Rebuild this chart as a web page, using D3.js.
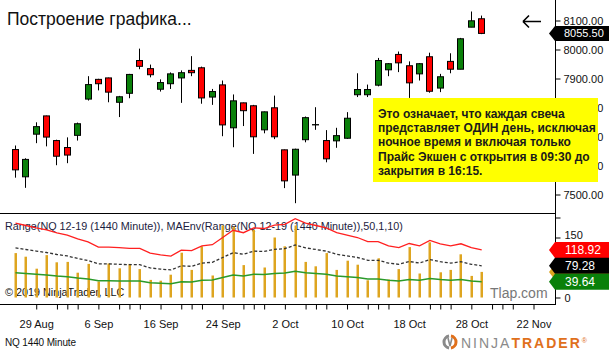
<!DOCTYPE html>
<html>
<head>
<meta charset="utf-8">
<script src="https://cdn.jsdelivr.net/npm/d3@7"></script>
<style>
body{margin:0;background:#fff}
svg{display:block;font-family:"Liberation Sans",Arial,sans-serif}
</style>
</head>
<body>
<svg id="chart" width="609" height="352"></svg>
<script>
// daily NQ 12-19 bars
const open  = [7655,7561,7708,7771,7686,7662,7704,7829,7897,7902,7818,7849,7962,7934,7863,7882,7902,7928,7937,7836,7878,7730,7816,7806,7723,7799,7654,7567,7689,7740,7686,7685,7694,7844,7844,7877,7930,7983,7944,7916,7975,7867,7959,7932,8077,8106]
const high  = [7669,7625,7749,7772,7689,7697,7748,7908,7899,7903,7840,7916,8003,7948,7897,7921,7928,7977,7941,7864,7893,7845,7817,7809,7786,7841,7655,7658,7769,7801,7722,7730,7784,7918,7879,7971,7953,7993,7959,7953,7989,7916,7987,8040,8131,8117]
const low   = [7558,7523,7677,7666,7601,7608,7686,7824,7859,7818,7767,7832,7932,7904,7855,7864,7816,7908,7813,7809,7701,7663,7736,7640,7711,7691,7522,7470,7680,7723,7611,7661,7692,7836,7836,7873,7908,7922,7833,7893,7851,7853,7918,7932,8077,8053]
const close = [7585,7621,7734,7698,7632,7636,7744,7879,7882,7853,7837,7914,7942,7913,7886,7916,7920,7920,7833,7855,7740,7823,7789,7699,7785,7699,7547,7656,7765,7741,7623,7703,7763,7862,7862,7962,7951,7954,7885,7951,7856,7906,7932,8037,8099,8055.5]

// lower panel: Range bars and MA envelope
const range   = [111,102,72,106,88,89,62,84,40,85,73,84,71,44,42,57,112,69,128,55,180,177,81,169,75,150,128,180,89,78,111,69,92,82,43,98,45,71,126,60,138,63,69,108,54,64]
const maMid   = [124,120,116,112.5,107.5,104,97.5,92.5,84,84,83,82,82,74,71,69,79,78,86,88,100,112,108,116,115,120.5,122,131.3,124,120,116,108,104,100,93,93,86,83,90,86,95,89.5,86,89.5,83,79.28]
const maUpper = [186,180,174,168.8,161.3,156,146.3,138.8,126,126,124.5,123,123,111,106.5,103.5,118.5,117,129,132,150,168,162,174,172.5,180.8,183,197,186,180,174,162,156,150,139.5,139.5,129,124.5,135,129,142.5,134.3,129,134.3,124.5,118.92]
const maLower = [62,60,58,56.3,53.8,52,48.8,46.3,42,42,41.5,41,41,37,35.5,34.5,39.5,39,43,44,50,56,54,58,57.5,60.3,61,65.6,62,60,58,54,52,50,46.5,46.5,43,41.5,45,43,47.5,44.8,43,44.8,41.5,39.64]

const priceTicks = [7500,7600,7700,7800,7900,8000,8100]
const rangeTicks = [0,50,100,150,200]
const rangeLabels = [0,150]
const dateLabels = ["29 Aug","6 Sep","16 Sep","24 Sep","2 Oct","10 Oct","18 Oct","28 Oct","22 Nov"]
const datePos    = [2,8,14,20,26,32,38,44,50]

const note = ["Это означает, что каждая свеча",
    "представляет ОДИН день, исключая",
    "ночное время и включая только",
    "Прайс Экшен с открытия в 09:30 до",
    "закрытия в 16:15."]

const svg = d3.select("#chart")
const axisX = 555

const x  = d3.scaleLinear().domain([0, 45]).range([15, 481.2])
const yP = d3.scaleLinear().domain([7500, 8100]).range([194.5, 20.5])
const yI = d3.scaleLinear().domain([0, 150]).range([297.5, 237.5])
const px = i => Math.round(x(i))

svg.append("rect").attr("width", 609).attr("height", 352).attr("fill", "#fff")

// title + arrow
svg.append("text")
    .attr("x", 7).attr("y", 25)
    .attr("font-size", 17.5)
    .attr("fill", "#111")
    .text("Построение графика...")

svg.append("path")
    .attr("d", "M523,21.5 L541,21.5 M523,21.5 L529,15.5 M523,21.5 L529,27.5")
    .attr("stroke", "#000").attr("stroke-width", 1.6).attr("fill", "none")

// frame lines
svg.append("line").attr("x1", 0).attr("x2", axisX).attr("y1", 213.5).attr("y2", 213.5).attr("stroke", "#000")
svg.append("line").attr("x1", 0).attr("x2", axisX).attr("y1", 304.5).attr("y2", 304.5).attr("stroke", "#000")
svg.append("line").attr("x1", axisX + .5).attr("x2", axisX + .5).attr("y1", 0).attr("y2", 305).attr("stroke", "#000")

// price axis
const priceAxis = svg.append("g")
    .attr("transform", `translate(${axisX + .5},0)`)
    .call(d3.axisRight(yP).tickValues(priceTicks).tickFormat(d3.format(".2f")).tickSize(5).tickPadding(3))
priceAxis.select(".domain").remove()
priceAxis.selectAll("text").attr("font-size", 11).attr("font-family", "Liberation Sans, Arial").attr("fill", "#111")

// candles
const candles = svg.append("g").selectAll("g")
    .data(d3.range(open.length))
    .join("g")

candles.append("line")
    .attr("x1", i => px(i) + .5).attr("x2", i => px(i) + .5)
    .attr("y1", i => yP(high[i])).attr("y2", i => yP(low[i]))
    .attr("stroke", "#000")

candles.append("rect")
    .attr("x", i => px(i) - 2.5)
    .attr("width", 6)
    .attr("y", i => yP(Math.max(open[i], close[i])))
    .attr("height", i => Math.max(0.3, Math.abs(yP(open[i]) - yP(close[i]))))
    .attr("fill", i => close[i] >= open[i] ? "#0a800a" : "#ff0000")
    .attr("stroke", "#000")

// last price marker
const lastY = yP(close[close.length - 1])
svg.append("path")
    .attr("d", `M549,${lastY} L555,${lastY - 7.5} L609,${lastY - 7.5} L609,${lastY + 7.5} L555,${lastY + 7.5} Z`)
    .attr("fill", "#000")
svg.append("text")
    .attr("x", 564).attr("y", lastY + 4)
    .attr("font-size", 11).attr("fill", "#fff")
    .text(d3.format(".2f")(close[close.length - 1]))

// note box
svg.append("rect")
    .attr("x", 373).attr("y", 98).attr("width", 225).attr("height", 84)
    .attr("fill", "#ffff00")
svg.append("g").selectAll("text")
    .data(note)
    .join("text")
    .attr("x", 378)
    .attr("y", (d, i) => 118 + i * 14.2)
    .attr("font-size", 12)
    .attr("font-weight", "bold")
    .attr("fill", "#1a1a1a")
    .text(d => d)

// lower panel texts
svg.append("text")
    .attr("x", 5).attr("y", 229.5)
    .attr("font-size", 10.8).attr("fill", "#1c1c40")
    .text("Range(NQ 12-19 (1440 Minute)), MAEnv(Range(NQ 12-19 (1440 Minute)),50,1,10)")
svg.append("text")
    .attr("x", 5).attr("y", 295.5)
    .attr("font-size", 10.8).attr("fill", "#111")
    .text("© 2019 NinjaTrader, LLC")
svg.append("text")
    .attr("x", 490).attr("y", 298)
    .attr("font-size", 14).attr("fill", "#777")
    .text("Tlap.com")

// range bars
svg.append("g").selectAll("rect")
    .data(range)
    .join("rect")
    .attr("x", (d, i) => px(i) - 0.5)
    .attr("width", 2.5)
    .attr("y", d => yI(d))
    .attr("height", d => yI(0) - yI(d))
    .attr("fill", "#dea520")

const line = d3.line().x((d, i) => x(i) + .5).y(d => yI(d))
svg.append("path").datum(maUpper).attr("d", line).attr("fill", "none").attr("stroke", "#ff2020").attr("stroke-width", 1.3)
svg.append("path").datum(maMid).attr("d", line).attr("fill", "none").attr("stroke", "#333").attr("stroke-width", 1.3).attr("stroke-dasharray", "3,2")
svg.append("path").datum(maLower).attr("d", line).attr("fill", "none").attr("stroke", "#2a9a2a").attr("stroke-width", 1.5)

// lower axis (50 and 100 sit under the value markers)
const rangeAxis = svg.append("g")
    .attr("transform", `translate(${axisX + .5},0)`)
    .call(d3.axisRight(yI).tickValues(rangeTicks).tickFormat(d => rangeLabels.includes(d) ? d : "").tickSize(5).tickPadding(4))
rangeAxis.select(".domain").remove()
rangeAxis.selectAll("text").attr("font-size", 11).attr("font-family", "Liberation Sans, Arial").attr("fill", "#111")
rangeAxis.selectAll(".tick").filter(d => d === 150).select("text").attr("dy", "0.1em")

// value markers on the lower axis
const markers = [
    {v: range[range.length - 1], c: "#dea520", label: ""},
    {v: maUpper[maUpper.length - 1], c: "#ff0000", label: d3.format(".2f")(maUpper[maUpper.length - 1])},
    {v: maMid[maMid.length - 1], c: "#000", label: d3.format(".2f")(maMid[maMid.length - 1])},
    {v: maLower[maLower.length - 1], c: "#0a800a", label: d3.format(".2f")(maLower[maLower.length - 1])}
]
const mk = svg.append("g").selectAll("g").data(markers).join("g")
mk.append("path")
    .attr("d", d => {
        const cy = yI(d.v)
        return `M549,${cy} L555,${cy - 8} L609,${cy - 8} L609,${cy + 8} L555,${cy + 8} Z`
    })
    .attr("fill", d => d.c)
mk.append("text")
    .attr("x", 565).attr("y", d => yI(d.v) + 4.5)
    .attr("font-size", 12).attr("fill", "#fff")
    .text(d => d.label)

// date axis
const tickIdx = []
datePos.forEach(p => {
    tickIdx.push(p)
    if (p < 50) tickIdx.push(p + 2, p + 3, p + 4)
})
const dateAxis = svg.append("g")
    .attr("transform", "translate(0.5,304.5)")
    .call(d3.axisBottom(x).tickValues(tickIdx)
        .tickFormat(d => datePos.includes(d) ? dateLabels[datePos.indexOf(d)] : "")
        .tickSize(5).tickPadding(11))
dateAxis.select(".domain").remove()
dateAxis.selectAll("text").attr("font-size", 11).attr("font-family", "Liberation Sans, Arial").attr("fill", "#111")

// footer
svg.append("text")
    .attr("x", 5).attr("y", 346)
    .attr("font-size", 10).attr("fill", "#111")
    .attr("textLength", 71)
    .text("NQ 1440 Minute")

const logo = svg.append("g").attr("transform", "translate(450,342)")
logo.append("path").attr("d", d3.arc()({innerRadius: 4.5, outerRadius: 7.5, startAngle: Math.PI * 1.05, endAngle: Math.PI * 1.95})).attr("fill", "#8a8a8a")
logo.append("path").attr("d", d3.arc()({innerRadius: 4.5, outerRadius: 7.5, startAngle: Math.PI * 0.05, endAngle: Math.PI * 0.95})).attr("fill", "#e0701c")
logo.append("path").attr("d", "M-2,-4 L0,4 L2,-4").attr("fill", "none").attr("stroke", "#8a8a8a").attr("stroke-width", 1.6)

const brand = svg.append("text")
    .attr("x", 461).attr("y", 348)
    .attr("font-size", 14)
    .attr("letter-spacing", 2)
brand.append("tspan").attr("fill", "#8a8a8a").text("NINJA")
brand.append("tspan").attr("fill", "#e0701c").attr("font-weight", "bold").text("TRADER")
brand.append("tspan").attr("fill", "#e0701c").attr("font-size", 7).attr("dy", -5).text("®")
</script>
</body>
</html>
